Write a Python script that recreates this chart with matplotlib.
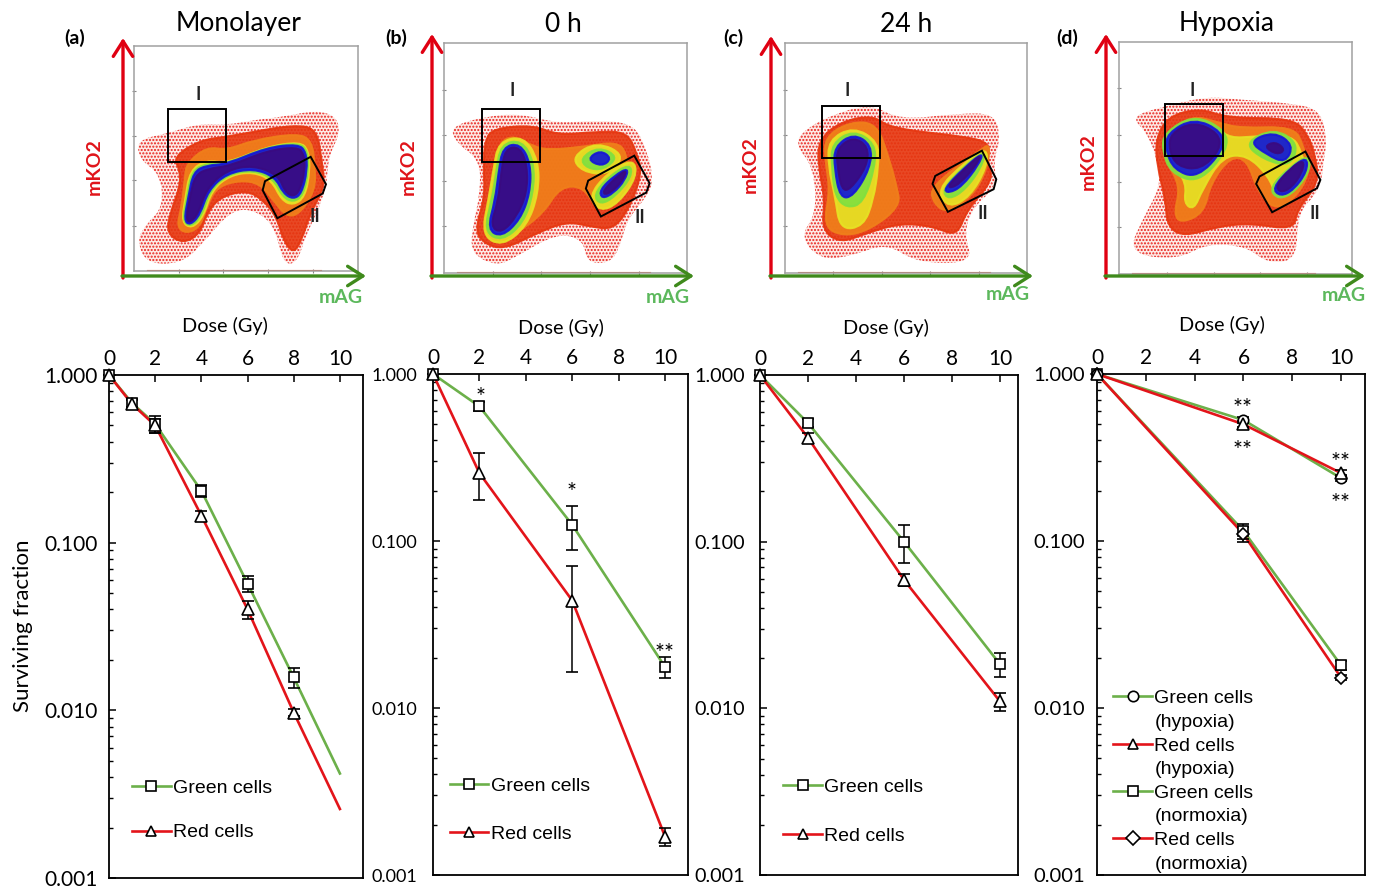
import numpy as np
import matplotlib
matplotlib.use("Agg")
import matplotlib.pyplot as plt
from matplotlib.path import Path
from matplotlib.patches import PathPatch, Polygon
from matplotlib.lines import Line2D
from matplotlib.ticker import LogLocator, NullFormatter, FormatStrFormatter

W, H = 1374, 888
GREEN = "#6cb04a"
RED = "#e3141a"

# ---- survival curves (dose, value, error low, error high) ----
a_dose_g = [0, 1, 2, 4, 6, 8, 10]
a_green = [1.0, 0.68, 0.51, 0.204, 0.057, 0.0157, 0.0042]
a_green_err = [0, 0.04, 0.06, 0.017, 0.006, 0.0022, 0]
a_red = [1.0, 0.67, 0.50, 0.145, 0.040, 0.0097, 0.00258]
a_red_err = [0, 0.04, 0.05, 0.01, 0.005, 0.0005, 0]

b_dose = [0, 2, 6, 10]
b_green = [1.0, 0.64, 0.125, 0.0176]
b_green_err = [0, 0.04, 0.037, 0.0025]
b_red = [1.0, 0.255, 0.044, 0.0017]
b_red_low = [0, 0.078, 0.0275, 0.0002]
b_red_high = [0, 0.082, 0.027, 0.0002]

c_dose = [0, 2, 6, 10]
c_green = [1.0, 0.515, 0.100, 0.0184]
c_green_err = [0, 0.03, 0.026, 0.003]
c_red = [1.0, 0.42, 0.059, 0.011]
c_red_err = [0, 0.03, 0.005, 0.0013]

d_dose = [0, 6, 10]
d_green_hyp = [1.0, 0.53, 0.238]
d_red_hyp = [1.0, 0.50, 0.255]
d_green_nor = [1.0, 0.115, 0.018]
d_red_nor = [1.0, 0.11, 0.0152]
d_green_nor_err = [0, 0.012, 0.001]
d_red_nor_err = [0, 0.011, 0.0005]
d_hyp_err = [0, 0.02, 0.01]

# ---- flow plots: outlines per density level, in crop pixels ----
LEVEL_COLORS = ["#fdeae6", "#e6360f", "#f0801a", "#e6e324", "#7fe040", "#1414d8", "#3a0a80"]

a_levels = [
    [[(410,420),(500,400),(600,370),(680,375),(760,360),(850,350),(950,330),(1010,350),(1020,400),(985,470),(980,560),(950,640),(920,700),(890,790),(850,790),(830,700),(790,640),(700,620),(600,740),(540,790),(440,790),(410,720),(440,670),(490,620),(480,520),(420,480)]],
    [[(520,470),(600,420),(680,410),(760,395),(880,375),(950,385),(965,480),(975,560),(930,640),(905,720),(880,760),(850,720),(830,650),(790,600),(740,570),(660,590),(620,640),(600,700),(550,730),(500,700),(510,640),(540,560),(540,510)]],
    [[(560,490),(620,440),(680,450),(760,420),(890,400),(935,420),(945,500),(945,570),(900,640),(860,650),(820,600),(780,550),(720,540),(650,560),(620,620),(600,680),(560,700),(530,680),(545,620),(555,530)]],
    [[(570,510),(620,480),(680,490),(800,440),(900,425),(925,450),(930,510),(915,590),(880,615),(845,600),(815,540),(760,515),(690,525),(635,570),(610,650),(575,685),(545,665),(555,600)]],
    [[(575,512),(620,490),(680,491),(800,441),(898,428),(922,452),(926,510),(910,585),(880,606),(848,590),(820,535),(760,510),(685,522),(630,570),(605,648),(572,680),(548,662),(560,595)]],
    [[(580,515),(620,495),(680,492),(800,442),(895,432),(918,455),(922,510),(905,580),(880,597),(850,580),(825,530),(760,505),(680,520),(625,570),(600,645),(570,675),(552,660),(565,590)]],
    [[(585,525),(625,505),(690,497),(800,452),(890,440),(912,460),(915,510),(900,570),(880,590),(855,575),(835,525),(760,495),(680,510),(620,565),(595,640),(570,668),(558,655),(570,590)]],
]
b_levels = [
    [[(240,380),(340,350),(450,340),(560,370),(680,360),(790,370),(830,450),(850,540),(830,590),(770,660),(750,740),(720,790),(650,790),(640,720),(560,700),(440,770),(380,800),(300,760),(310,670),(330,580),(330,480),(260,430)]],
    [[(345,420),(370,385),(490,375),(560,405),(680,395),(770,395),(800,460),(815,520),(780,620),(730,690),(660,680),(590,665),(500,700),(400,750),(340,730),(315,690),(345,590),(340,500)]],
    [[(385,430),(430,405),(490,440),(540,450),(640,440),(740,425),(770,460),(770,540),(730,620),(680,630),(640,560),(570,560),(520,640),(440,700),(390,720),(350,690),(375,590),(385,500)]],
    [[(385,425),(460,408),(505,480),(505,580),(470,680),(395,740),(335,705),(355,600),(370,510)],
     [(605,470),(680,425),(765,465),(715,525),(635,515)],
     [(655,590),(710,520),(790,475),(800,530),(745,610),(690,635)]],
    [[(392,432),(455,420),(492,485),(490,580),(460,670),(395,725),(342,695),(365,600),(378,520)],
     [(630,475),(685,440),(745,470),(700,510),(650,505)],
     [(670,585),(715,530),(780,490),(785,530),(735,590),(690,615)]],
    [[(398,440),(450,430),(482,490),(480,580),(450,660),(395,712),(352,690),(375,600),(385,520)],
     [(650,478),(690,450),(725,475),(695,500)],
     [(688,570),(735,525),(775,503),(765,540),(730,580),(695,597)]],
    [[(405,445),(450,440),(472,500),(470,580),(440,650),(395,700),(360,680),(385,600),(393,520)],
     [(700,570),(745,525),(770,510),(755,545),(725,575),(702,585)]],
]
c_levels = [
    [[(300,400),(380,350),(510,310),(600,360),(770,340),(885,340),(900,420),(880,480),(890,560),(820,620),(790,700),(820,790),(650,790),(560,730),(450,770),(360,780),(300,710),(350,640),(340,500),(290,440)]],
    [[(355,420),(420,365),(520,345),(570,385),(800,410),(870,430),(860,480),(880,540),(800,630),(770,710),(700,680),(600,670),(500,700),(420,730),(365,690),(375,600),(355,500)]],
    [[(375,410),(450,365),(530,370),(565,470),(590,560),(600,620),(510,690),(430,710),(370,680),(390,570),(375,480)],
     [(690,560),(840,450),(870,430),(860,510),(815,590),(740,640),(700,610)]],
    [[(385,420),(460,380),(535,425),(535,500),(520,600),(490,680),(420,690),(405,590),(385,500)],
     [(710,570),(790,490),(860,440),(860,500),(810,590),(745,625)]],
    [[(395,430),(460,390),(525,430),(525,500),(490,610),(440,625),(405,590),(395,500)],
     [(725,570),(790,500),(855,450),(845,500),(795,570),(745,600)]],
    [[(403,440),(460,400),(515,435),(510,505),(460,590),(420,595),(403,505)],
     [(730,568),(790,505),(850,455),(835,495),(785,560),(745,580)]],
    [[(410,445),(460,410),(505,440),(500,500),(450,570),(425,570),(412,500)],
     [(745,555),(795,505),(845,460),(825,500),(780,550),(750,565)]],
]
d_levels = [
    [[(290,350),(390,320),(520,290),(620,300),(770,310),(860,330),(880,420),(870,480),(860,570),(790,640),(790,780),(700,790),(640,740),(520,730),(430,780),(280,760),(330,650),(380,560),(370,480),(340,400)]],
    [[(365,420),(400,350),(500,325),(580,355),(780,355),(825,410),(845,470),(855,550),(790,630),(780,690),(650,670),(550,680),(450,710),(400,680),(395,600),(370,500)]],
    [[(400,410),(470,345),(560,370),(620,385),(780,380),(810,440),(830,520),(780,600),(720,630),(670,570),(640,480),(590,470),(530,550),(510,640),(440,670),(420,640),(440,560),(395,480)]],
    [[(408,420),(480,362),(550,385),(590,415),(660,410),(775,405),(805,460),(815,510),(770,575),(725,585),(705,530),(640,465),(565,470),(505,570),(480,630),(450,610),(458,550),(415,490)]],
    [[(390,400),(480,345),(575,390),(582,450),(495,550),(410,520),(385,450)],
     [(630,430),(720,385),(795,430),(770,500),(690,480)],
     [(705,565),(770,500),(825,465),(830,510),(785,575),(735,600)]],
    [[(400,400),(480,355),(565,395),(570,450),(490,535),(420,510),(395,450)],
     [(645,425),(720,395),(780,435),(755,490),(700,465)],
     [(715,565),(770,505),(820,470),(820,515),(780,570),(740,590)]],
    [[(410,400),(480,365),(555,400),(560,450),(500,510),(430,500),(405,450)],
     [(690,440),(725,425),(755,450),(730,465)],
     [(725,558),(770,505),(812,478),(805,520),(772,565),(740,578)]],
]

a_gate1 = [(504,328),(677,328),(677,485),(504,485)]
a_gate2 = [(932,470),(978,552),(968,580),(832,654),(788,570),(795,543)]
b_gate1 = [(335,328),(509,328),(509,485),(335,485)]
b_gate2 = [(792,467),(838,550),(828,578),(692,650),(647,566),(654,542)]
c_gate1 = [(365,318),(540,318),(540,475),(365,475)]
c_gate2 = [(845,452),(888,538),(880,568),(743,636),(697,552),(705,528)]
d_gate1 = [(393,313),(567,313),(567,470),(393,470)]
d_gate2 = [(815,455),(860,540),(850,565),(715,637),(667,552),(677,530)]


def px_axes(fig, l, t, r, b):
    return fig.add_axes([l / W, 1 - b / H, (r - l) / W, (b - t) / H])


def blob_path(pts):
    # closed quadratic curve through the side midpoints
    pts = np.array(pts, dtype=float)
    mids = (pts + np.roll(pts, -1, axis=0)) / 2
    verts = [mids[-1]]
    codes = [Path.MOVETO]
    for p, m in zip(pts, mids):
        verts += [p, m]
        codes += [Path.CURVE3, Path.CURVE3]
    return Path(verts, codes)


def flow_panel(fig, box, crop_x, crop_y, levels, gate1, gate2, xt, yt):
    ax = px_axes(fig, *box)
    ax.set_xlim(*crop_x)
    ax.set_ylim(*crop_y)
    for i, outlines in enumerate(levels):
        for o in outlines:
            if i == 0:
                # sparse outer events: stippled
                ax.add_patch(PathPatch(blob_path(o), fc=LEVEL_COLORS[0], ec="#e8201a", lw=0, hatch="....."))
            else:
                ax.add_patch(PathPatch(blob_path(o), fc=LEVEL_COLORS[i], ec=LEVEL_COLORS[i], lw=1.5, alpha=0.9))
    for g in (gate1, gate2):
        ax.add_patch(Polygon(g, closed=True, fill=False, ec="black", lw=1.4, zorder=5))
    ax.plot([crop_x[0] + 40, crop_x[1] - 110], [crop_y[0] - 3] * 2, color="#e8502a", lw=0.8)
    ax.set_xticks(xt)
    ax.set_yticks(yt)
    ax.tick_params(length=2.5, direction="inout", color="#888888", labelbottom=False, labelleft=False)
    for s in ax.spines.values():
        s.set_color("#a0a0a0")
        s.set_linewidth(1.1)
    return ax


def survival_axes(fig, box, xmax, ypad, ysize):
    ax = px_axes(fig, *box)
    ax.set_yscale("log")
    ax.set_xlim(0, xmax)
    ax.set_ylim(0.001, 1)
    ax.xaxis.tick_top()
    ax.set_xticks(range(0, 11, 2))
    ax.yaxis.set_major_formatter(FormatStrFormatter("%.3f"))
    ax.yaxis.set_minor_locator(LogLocator(base=10, subs=range(2, 10), numticks=12))
    ax.yaxis.set_minor_formatter(NullFormatter())
    ax.tick_params(axis="x", which="major", direction="in", length=5, width=1.1, labelsize=15, pad=4)
    ax.tick_params(axis="y", which="major", direction="in", length=5, width=1.1, labelsize=ysize, pad=ypad)
    ax.tick_params(axis="y", which="minor", direction="in", length=3, width=1.0)
    for s in ax.spines.values():
        s.set_linewidth(1.3)
    return ax


def curve(ax, x, y, color, marker, low=None, high=None, n_mark=None, ms=7.5):
    ax.plot(x, y, color=color, lw=1.9, zorder=3, clip_on=False)
    n = len(x) if n_mark is None else n_mark
    yerr = None
    if low is not None:
        high = low if high is None else high
        yerr = [low[:n], high[:n]]
    ax.errorbar(x[:n], y[:n], yerr=yerr, fmt=marker, ms=ms, mfc="white", mec="black", mew=1.2,
                ecolor="black", elinewidth=1.1, capsize=4, capthick=1.1, zorder=4, clip_on=False)


def add_legend(ax, entries, anchor, spacing, size=14):
    handles = []
    for c, m, _ in entries:
        if c is None:
            handles.append(Line2D([], [], lw=0, alpha=0))
        else:
            handles.append(Line2D([0], [0], color=c, lw=1.9, marker=m, ms=7.5, mfc="white", mec="black", mew=1.2))
    leg = ax.legend(handles, [t for _, _, t in entries], loc="upper left", bbox_to_anchor=anchor,
                    frameon=False, handlelength=2.0, handletextpad=0.12, labelspacing=spacing,
                    borderpad=0, borderaxespad=0,
                    prop={"family": "Liberation Sans", "size": size})
    leg.set_zorder(6)
    return leg


plt.rcParams["font.family"] = ["Lato", "DejaVu Sans"]
fig = plt.figure(figsize=(W / 100, H / 100), dpi=100)

# top row
flow_panel(fig, (134, 46, 358, 271), (402, 1074), (812, 138), a_levels, a_gate1, a_gate2,
           [537, 670, 805, 938], [272, 408, 540, 677])
flow_panel(fig, (444, 43, 687, 273), (222, 950), (820, 128), b_levels, b_gate1, b_gate2,
           [370, 512, 660, 805], [268, 405, 543, 680])
flow_panel(fig, (785, 43, 1027, 273), (255, 980), (820, 128), c_levels, c_gate1, c_gate2,
           [400, 545, 690, 835], [268, 405, 543, 680])
flow_panel(fig, (1119, 42, 1352, 274), (255, 955), (822, 127), d_levels, d_gate1, d_gate2,
           [400, 540, 680, 820], [265, 405, 545, 682])

# bottom row
ax_a = survival_axes(fig, (109, 375, 363, 878), 11.0, 8, 15)
ax_b = survival_axes(fig, (433, 374, 688, 875), 10.99, 11.5, 13)
ax_c = survival_axes(fig, (760, 375, 1018, 875), 10.75, 11, 14.2)
ax_d = survival_axes(fig, (1097, 374, 1365, 875), 10.98, 8.5, 14.5)

curve(ax_a, a_dose_g, a_green, GREEN, "s", a_green_err, n_mark=6)
curve(ax_a, a_dose_g, a_red, RED, "^", a_red_err, n_mark=6, ms=9)
curve(ax_b, b_dose, b_green, GREEN, "s", b_green_err)
curve(ax_b, b_dose, b_red, RED, "^", b_red_low, b_red_high, ms=9)
curve(ax_c, c_dose, c_green, GREEN, "s", c_green_err)
curve(ax_c, c_dose, c_red, RED, "^", c_red_err, ms=9)
curve(ax_d, d_dose, d_green_nor, GREEN, "s", d_green_nor_err)
curve(ax_d, d_dose, d_red_nor, RED, "D", d_red_nor_err, ms=6.5)
curve(ax_d, d_dose, d_green_hyp, GREEN, "o", d_hyp_err)
curve(ax_d, d_dose, d_red_hyp, RED, "^", d_hyp_err, ms=9)

two = [(GREEN, "s", "Green cells"), (RED, "^", "Red cells")]
add_legend(ax_a, two, (0.09, 0.197), 1.4)
add_legend(ax_b, two, (0.065, 0.195), 1.55)
add_legend(ax_c, two, (0.09, 0.193), 1.6)
add_legend(ax_d, [(GREEN, "o", "Green cells"), (None, None, "(hypoxia)"),
                  (RED, "^", "Red cells"), (None, None, "(hypoxia)"),
                  (GREEN, "s", "Green cells"), (None, None, "(normoxia)"),
                  (RED, "D", "Red cells"), (None, None, "(normoxia)")],
           (0.06, 0.37), 0.31)

# texts and arrows drawn over the whole figure, in picture pixels
ov = fig.add_axes([0, 0, 1, 1], zorder=10)
ov.set_xlim(0, W)
ov.set_ylim(H, 0)
ov.axis("off")

titles = ["Monolayer", "0 h", "24 h", "Hypoxia"]
title_x = [239, 563, 906, 1227]
panel_tags = ["(a)", "(b)", "(c)", "(d)"]
tag_x = [75, 396, 733, 1067]
for t, x in zip(titles, title_x):
    ov.text(x, 24, t, ha="center", va="center", fontsize=19)
for t, x in zip(panel_tags, tag_x):
    ov.text(x, 38, t, ha="center", va="center", fontsize=14, fontweight="bold")

arrow_x = [123, 432, 771, 1106]
arrow_top = [38, 34, 36, 34]
arrow_right = [366, 694, 1033, 1365]
for x, top, right in zip(arrow_x, arrow_top, arrow_right):
    ov.annotate("", xy=(x, top), xytext=(x, 278),
                arrowprops=dict(arrowstyle="->,head_length=0.55,head_width=0.35", color="#e00012",
                                lw=2.4, shrinkA=0, shrinkB=0, mutation_scale=20))
    ov.annotate("", xy=(right, 276), xytext=(x - 1, 276),
                arrowprops=dict(arrowstyle="->,head_length=0.55,head_width=0.35", color="#3f8a1c",
                                lw=2.4, shrinkA=0, shrinkB=0, mutation_scale=20))

for x, y in zip([94, 408, 750, 1088], [167, 167, 165, 162]):
    ov.text(x, y, "mKO2", color="#e0141a", rotation=90, ha="center", va="center", fontsize=14, fontweight="bold")
for x, y in zip([341, 668, 1008, 1344], [297, 297, 294, 295]):
    ov.text(x, y, "mAG", color="#5cb85c", ha="center", va="center", fontsize=14, fontweight="bold")

for x, y in zip([198, 512, 847, 1192], [94, 90, 90, 90]):
    ov.text(x, y, "I", ha="center", va="center", fontsize=13, fontweight="bold", color="#222222")
for x, y in zip([315, 640, 983, 1315], [216, 217, 213, 213]):
    ov.text(x, y, "II", ha="center", va="center", fontsize=13, fontweight="bold", color="#222222")

for x, y in zip([225, 561, 886, 1222], [326, 328, 328, 325]):
    ov.text(x, y, "Dose (Gy)", ha="center", va="center", fontsize=14.3)
ov.text(23, 626, "Surviving fraction", rotation=90, ha="center", va="center", fontsize=16)

star_x = [481, 572, 665, 1243, 1243, 1341, 1341]
star_y = [397, 492, 653, 408, 450, 462, 503]
star_t = ["*", "*", "**", "**", "**", "**", "**"]
for x, y, t in zip(star_x, star_y, star_t):
    ov.text(x, y, t, ha="center", va="center", fontsize=17)

fig.savefig("out.png", dpi=100)
